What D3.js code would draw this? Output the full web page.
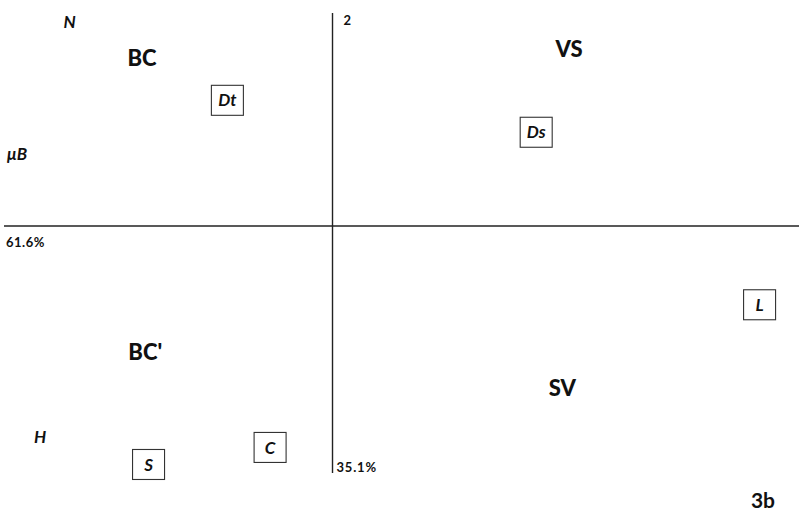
<!DOCTYPE html>
<html>
<head>
<meta charset="utf-8">
<script src="https://cdn.jsdelivr.net/npm/d3@7"></script>
<style>
  body { margin: 0; background: #fff; }
  text { font-family: Lato, 'Open Sans', sans-serif; fill: #111; }
</style>
</head>
<body>
<div id="chart"></div>
<script>
// variables (boxed), factor scores on axes 1 and 2
let varNames = ['Dt', 'Ds', 'L', 'S', 'C'];
let varX = [-0.32, 0.62, 1.30, -0.56, -0.19];
let varY = [0.59, 0.44, -0.37, -1.12, -1.04];

// individual points (italic)
let ptNames = ['N', 'μB', 'H'];
let ptX = [-0.80, -0.96, -0.89];
let ptY = [0.96, 0.34, -0.99];

// groups (bold)
let grpNames = ['BC', 'VS', "BC'", 'SV'];
let grpX = [-0.58, 0.72, -0.57, 0.70];
let grpY = [0.79, 0.83, -0.59, -0.76];

// axis labels
let axis1Label = '61.6%';
let axis2Label = '35.1%';
let axis2Name = '2';
let figLabel = '3b';

let width = 799, height = 517;

let svg = d3.select('#chart')
  .append('svg')
  .attr('width', width)
  .attr('height', height);

// scales
let xScale = d3.scaleLinear()
  .domain([-1, 1.42])
  .range([4, 799]);
let yScale = d3.scaleLinear()
  .domain([-1.16, 1])
  .range([473, 13]);

// axes through origin
svg.append('line')
  .attr('x1', xScale(-1)).attr('x2', xScale(1.42))
  .attr('y1', yScale(0)).attr('y2', yScale(0))
  .style('stroke', '#222').style('stroke-width', 1.4);
svg.append('line')
  .attr('x1', xScale(0)).attr('x2', xScale(0))
  .attr('y1', yScale(1)).attr('y2', yScale(-1.16))
  .style('stroke', '#222').style('stroke-width', 1.4);

// axis labels
svg.append('text')
  .attr('x', xScale(-1) + 2)
  .attr('y', yScale(0) + 21)
  .attr('font-size', '13px')
  .attr('font-weight', 'bold')
  .attr('letter-spacing', '0.5px')
  .text(axis1Label);
svg.append('text')
  .attr('x', xScale(0) + 11)
  .attr('y', yScale(1) + 12)
  .attr('font-size', '13px')
  .attr('font-weight', 'bold')
  .text(axis2Name);
svg.append('text')
  .attr('x', xScale(0) + 4)
  .attr('y', yScale(-1.16) - 1)
  .attr('font-size', '13px')
  .attr('font-weight', 'bold')
  .attr('letter-spacing', '0.8px')
  .text(axis2Label);
svg.append('text')
  .attr('x', 775)
  .attr('y', 508)
  .attr('text-anchor', 'end')
  .attr('font-size', '21px')
  .attr('font-weight', 'bold')
  .text(figLabel);

// groups
let groups = grpNames.map((n, i) => ({ name: n, x: grpX[i], y: grpY[i] }));
svg.selectAll('text.grp')
  .data(groups)
  .enter()
  .append('text')
  .attr('class', 'grp')
  .attr('x', d => xScale(d.x))
  .attr('y', d => yScale(d.y))
  .attr('dy', '0.36em')
  .attr('text-anchor', 'middle')
  .attr('font-size', '22px')
  .attr('font-weight', 900)
  .text(d => d.name);

// individual points
let pts = ptNames.map((n, i) => ({ name: n, x: ptX[i], y: ptY[i] }));
svg.selectAll('text.pt')
  .data(pts)
  .enter()
  .append('text')
  .attr('class', 'pt')
  .attr('x', d => xScale(d.x))
  .attr('y', d => yScale(d.y))
  .attr('dy', '0.36em')
  .attr('text-anchor', 'middle')
  .attr('font-size', '17px')
  .attr('font-style', 'italic')
  .attr('font-weight', 'bold')
  .text(d => d.name);

// boxed variables
let vars = varNames.map((n, i) => ({ name: n, x: varX[i], y: varY[i] }));
let cell = svg.selectAll('g.var')
  .data(vars)
  .enter()
  .append('g')
  .attr('class', 'var')
  .attr('transform', d => 'translate(' + xScale(d.x) + ',' + yScale(d.y) + ')');
cell.append('rect')
  .attr('x', -16)
  .attr('y', -15)
  .attr('width', 32)
  .attr('height', 30)
  .style('fill', 'none')
  .style('stroke', '#333')
  .style('stroke-width', 1.1);
cell.append('text')
  .attr('dy', '0.36em')
  .attr('text-anchor', 'middle')
  .attr('font-size', '17px')
  .attr('font-style', 'italic')
  .attr('font-weight', 'bold')
  .text(d => d.name);
</script>
</body>
</html>
